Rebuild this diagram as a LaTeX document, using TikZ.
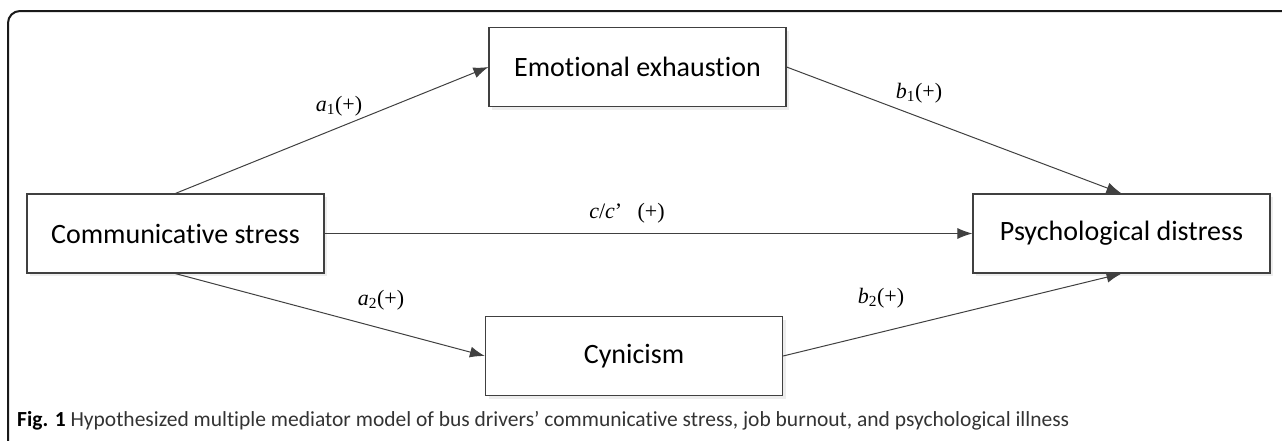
\documentclass[tikz,border=0pt]{standalone}
\usepackage{fontspec}
\setmainfont{Liberation Serif}
\newfontfamily\boxfont[Ligatures={NoCommon}]{Carlito}
\usepackage{tikz}
\usetikzlibrary{positioning, calc}
\usetikzlibrary{arrows.meta, shadows}
\definecolor{linegray}{HTML}{404040}
\definecolor{capgray}{HTML}{333333}

\begin{document}
\begin{tikzpicture}[x=1pt, y=-1pt,
	                    var/.style={draw=linegray,
	                                line width=1.2pt,
	                                fill=white,
	                                minimum width=297pt,
	                                minimum height=79pt,
	                                inner sep=0pt,
	                                drop shadow={shadow xshift=3pt, shadow yshift=-3pt, fill=black!7, opacity=1},
	                                font=\boxfont\fontsize{28}{32}\selectfont},
	                    coef/.style={font=\fontsize{22}{26}\selectfont, inner sep=0pt},
	                    post/.style={-{Latex[length=15pt, width=11pt]},
	                                 draw=linegray,
	                                 line width=1pt}]
	\clip (0,0) rectangle (1282,440);
	\useasboundingbox (0,0) rectangle (1282,440);
	\draw[line width=2pt, rounded corners=12pt, draw=black!90] (8,11) rectangle (1320,480);

	\node[var] (Stress) at (175.5, 233.5) {Communicative stress};
	\node[var] (Exhaustion) at (637.5, 67) {Emotional exhaustion};
	\node[var] (Distress) at (1121.5, 233.5) {Psychological distress};
	\node[var] (Cynicism) at (634, 356) {Cynicism};

	\node[coef] (a1) at (339, 106) {\textit{a}\textsubscript{1}(+)};
	\node[coef] (b1) at (919, 93) {\textit{b}\textsubscript{1}(+)};
	\node[coef] (c) at (627, 213) {\textit{c}/\textit{c}’\hspace{0.7em}(+)};
	\node[coef] (a2) at (381, 300) {\textit{a}\textsubscript{2}(+)};
	\node[coef] (b2) at (881, 298) {\textit{b}\textsubscript{2}(+)};

	\draw[post] (Stress.north) -- (Exhaustion.west);
	\draw[post] (Exhaustion.east) -- (Distress.north);
	\draw[post] (Stress.east) -- (Distress.west);
	\draw[post] (Stress.south) -- (Cynicism.west);
	\draw[post] (Cynicism.east) -- (Distress.south);

	\node[anchor=west, inner sep=0pt, text=capgray, font=\boxfont\fontsize{21.5}{24}\selectfont] (Caption) at (17, 421) {\textbf{\color{black}Fig. 1} Hypothesized multiple mediator model of bus drivers’ communicative stress, job burnout, and psychological illness};
\end{tikzpicture}
\end{document}
